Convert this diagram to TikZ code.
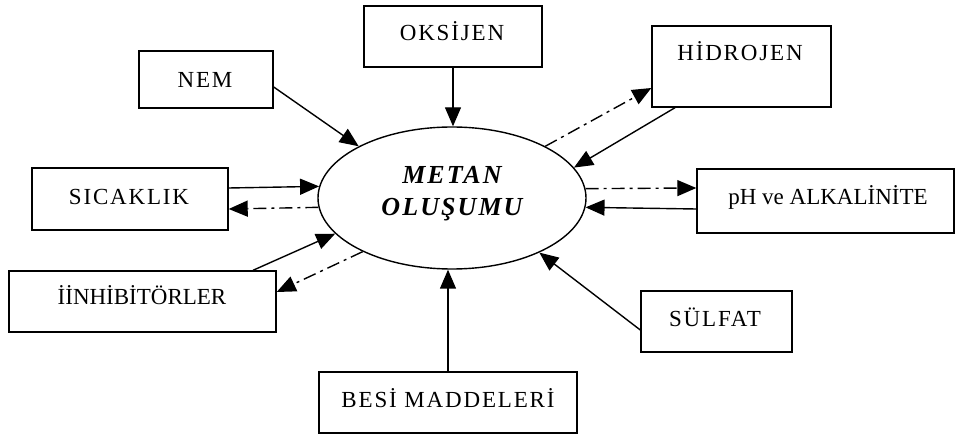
\documentclass[tikz,border=0pt]{standalone}
\usepackage{fontspec}
\setmainfont{Liberation Serif}
\newfontfamily\spc[LetterSpace=8]{Liberation Serif}
\usetikzlibrary{shapes.geometric,arrows.meta}
\begin{document}
\begin{tikzpicture}[x=1pt,y=-1pt,
  box/.style args={#1x#2}{draw, line width=1.4pt, inner sep=0pt, minimum width=#1pt, minimum height=#2pt},
  lbl/.style={inner sep=0pt, anchor=base, font=\fontsize{23}{27}\selectfont\spc},
  lblp/.style={inner sep=0pt, anchor=base, font=\fontsize{23}{27}\selectfont},
  ctr/.style={inner sep=0pt, anchor=base, font=\fontsize{26}{30}\selectfont\spc\bfseries\itshape},
  arr/.style={line width=1.4pt, -{Triangle[length=19pt,width=16pt]}},
  dd/.style={arr, dash pattern=on 13pt off 5pt on 3pt off 5pt}]
\useasboundingbox (0,0) rectangle (956,435);
% boxes
\node[box=178x61] (oks) at (453,36.5) {};
\node[box=134x57] (nem) at (206,79.5) {};
\node[box=179x81] (hid) at (741.5,66.5) {};
\node[box=257x64] (ph)  at (825.5,201) {};
\node[box=196x62] (sic) at (130,199) {};
\node[box=267x61] (inh) at (142.5,301.5) {};
\node[box=151x61] (sul) at (716.5,321.5) {};
\node[box=258x61] (bes) at (448,402.5) {};
\node[draw, ellipse, line width=1.4pt, minimum width=268pt, minimum height=142pt, inner sep=0pt] (el) at (452,198) {};
% labels
\node[lbl] (toks) at (452,40.6) {OKSİJEN};
\node[lbl] (tnem) at (205,87.6) {NEM};
\node[lbl] (thid) at (740,60.6) {HİDROJEN};
\node[lblp] (tph) at (828,204.6) {pH ve ALKALİNİTE};
\node[lbl] (tsic) at (129,204.6) {SICAKLIK};
\node[lblp] (tinh) at (142,304.6) {İİNHİBİTÖRLER};
\node[lbl] (tsul) at (715,326.6) {SÜLFAT};
\node[lbl] (tbes) at (448,407.6) {BESİ MADDELERİ};
\node[ctr] (tm1) at (452,183.6) {METAN};
\node[ctr] (tm2) at (452,215.6) {OLUŞUMU};
% connectors
\draw[arr] ([yshift=-7.5pt]nem.east) -- (el.151);
\draw[arr] (oks.south) -- (oks.south |- el.north);
\draw[arr] ([xshift=-66.5pt]hid.south) -- (el.14.6);
\draw[dd] (el.29.3) -- ([yshift=-21.5pt]hid.west);
\draw[arr] ([yshift=11pt]sic.east) -- (el.175.7);
\draw[dd] (el.184.7) -- ([yshift=-10pt]sic.east);
\draw[dd] (el.4.3) -- ([yshift=13pt]ph.west);
\draw[arr] ([yshift=-8pt]ph.west) -- (el.-4.7);
\draw[arr] ([xshift=110.5pt]inh.north) -- (el.197.1);
\draw[dd] (el.211.2) -- ([yshift=9.5pt]inh.east);
\draw[arr] ([yshift=-8.5pt]sul.west) -- (el.-32.4);
\draw[arr] (bes.north) -- (bes.north |- el.south);
\end{tikzpicture}
\end{document}
